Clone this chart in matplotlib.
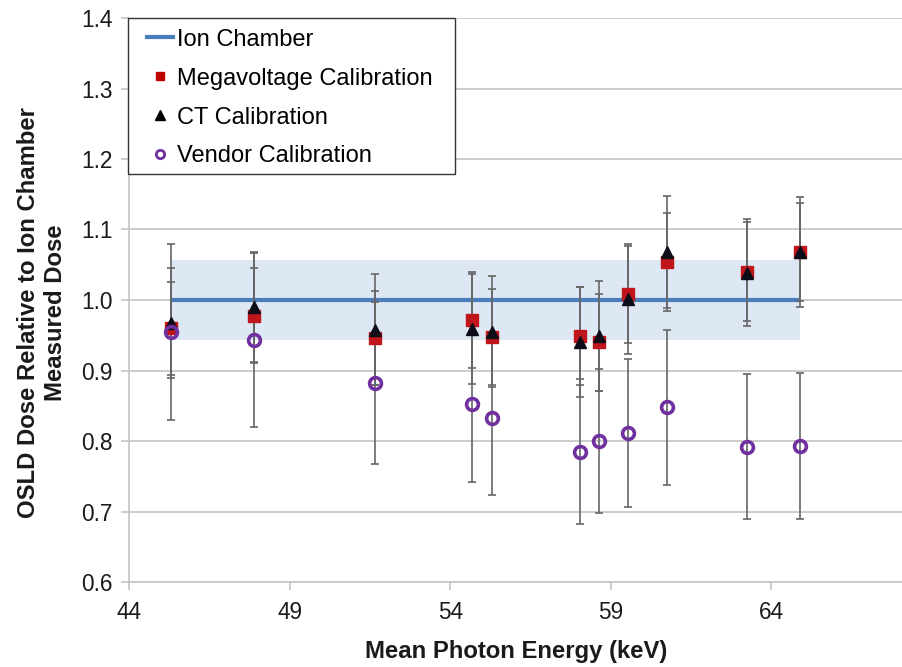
import matplotlib
matplotlib.use("Agg")
import matplotlib.pyplot as plt
from matplotlib.lines import Line2D
from matplotlib.patches import Rectangle

plt.rcParams['font.family'] = ['Liberation Sans', 'DejaVu Sans']

energy = [45.30, 47.88, 51.65, 54.69, 55.31, 58.05, 58.64, 59.55, 60.75, 63.23, 64.88]

ion_chamber = [1.0, 1.0, 1.0, 1.0, 1.0, 1.0, 1.0, 1.0, 1.0, 1.0, 1.0]
ion_band_low = [0.943, 0.943, 0.943, 0.943, 0.943, 0.943, 0.943, 0.943, 0.943, 0.943, 0.943]
ion_band_high = [1.057, 1.057, 1.057, 1.057, 1.057, 1.057, 1.057, 1.057, 1.057, 1.057, 1.057]

mv_cal = [0.960, 0.978, 0.946, 0.972, 0.948, 0.949, 0.940, 1.008, 1.054, 1.040, 1.068]
mv_err = [0.066, 0.068, 0.067, 0.068, 0.068, 0.069, 0.069, 0.069, 0.070, 0.070, 0.070]

ct_cal = [0.968, 0.990, 0.958, 0.959, 0.955, 0.941, 0.949, 1.002, 1.068, 1.039, 1.068]
ct_err = [0.078, 0.078, 0.079, 0.078, 0.079, 0.078, 0.078, 0.078, 0.079, 0.076, 0.078]

vendor_cal = [0.955, 0.943, 0.882, 0.853, 0.832, 0.785, 0.800, 0.811, 0.848, 0.792, 0.793]
vendor_err = [0.125, 0.123, 0.115, 0.111, 0.108, 0.103, 0.102, 0.105, 0.110, 0.103, 0.103]

x_ticks = [44, 49, 54, 59, 64]
y_ticks = [0.6, 0.7, 0.8, 0.9, 1.0, 1.1, 1.2, 1.3, 1.4]

labels = ["Ion Chamber", "Megavoltage Calibration", "CT Calibration", "Vendor Calibration"]

W, H = 903, 667
AX_L, AX_R, AX_T, AX_B = 129, 903, 18, 582
fig = plt.figure(figsize=(W / 100, H / 100), dpi=100)
ax = fig.add_axes([AX_L / W, 1 - AX_B / H, (AX_R - AX_L) / W, (AX_B - AX_T) / H])
aw, ah = AX_R - AX_L, AX_B - AX_T

gridc = '#C4C4C4'
ax.set_xlim(44, 68.1)
ax.set_ylim(0.6, 1.4)
ax.set_yticks(y_ticks)
ax.set_yticklabels([f"{v:.1f}" for v in y_ticks])
ax.set_xticks(x_ticks)
ax.yaxis.grid(True, color=gridc, linewidth=1.2, zorder=0)
ax.set_axisbelow(True)
for s in ['top', 'right']:
    ax.spines[s].set_visible(False)
for s in ['left', 'bottom']:
    ax.spines[s].set_color(gridc)
    ax.spines[s].set_linewidth(1.2)
ax.tick_params(axis='both', colors=gridc, labelcolor='#1a1a1a', labelsize=16.3,
               length=6, width=1.2, direction='out')
ax.tick_params(axis='y', pad=6)
ax.tick_params(axis='x', pad=8)

# band and ion chamber line
ax.fill_between(energy, ion_band_low, ion_band_high, color='#DEE8F5', linewidth=0, zorder=1)
ax.plot(energy, ion_chamber, color='#4A7EBB', linewidth=3, zorder=2, solid_capstyle='butt')

ebkw = dict(fmt='none', ecolor='#666666', elinewidth=1.2, capsize=2.6, capthick=1.2, zorder=3)
ax.errorbar(energy, vendor_cal, yerr=vendor_err, **ebkw)
ax.errorbar(energy, ct_cal, yerr=ct_err, **ebkw)
ax.errorbar(energy, mv_cal, yerr=mv_err, **ebkw)

ax.plot(energy, mv_cal, linestyle='none', marker='s', markersize=8.5,
        markerfacecolor='#C0151B', markeredgecolor='#C0151B', zorder=4)
ax.plot(energy, ct_cal, linestyle='none', marker='^', markersize=9,
        markerfacecolor='#0d0d1a', markeredgecolor='#0d0d1a', zorder=5)
ax.plot(energy, vendor_cal, linestyle='none', marker='o', markersize=8.5,
        markerfacecolor='none', markeredgecolor='#7030A0', markeredgewidth=2.6, zorder=6)

# legend frame
frame = Rectangle(((128 - AX_L) / aw, 1 - (174 - AX_T) / ah), 327 / aw, 156 / ah,
                  transform=ax.transAxes, facecolor='white', edgecolor='#333333',
                  linewidth=1.0, zorder=9, clip_on=False)
ax.add_patch(frame)

handles = [
    Line2D([], [], color='#4A7EBB', linewidth=3),
    Line2D([], [], linestyle='none', marker='s', markersize=6, color='#C00000'),
    Line2D([], [], linestyle='none', marker='^', markersize=6.5, color='black'),
    Line2D([], [], linestyle='none', marker='o', markersize=6, markerfacecolor='none',
           markeredgecolor='#7030A0', markeredgewidth=2),
]
leg = ax.legend(handles, labels, loc='upper left',
                bbox_to_anchor=((147 - AX_L) / aw, 1 - (28.5 - AX_T) / ah),
                fontsize=17, frameon=False, borderaxespad=0, borderpad=0,
                handlelength=1.1, handletextpad=0.17, labelspacing=0.72)
leg.set_zorder(10)

ax.set_xlabel("Mean Photon Energy (keV)", fontsize=17.2, fontweight='bold', labelpad=11, color='#1a1a1a')
ax.set_ylabel("OSLD Dose Relative to Ion Chamber\nMeasured Dose", fontsize=17.2,
              fontweight='bold', color='#1a1a1a', linespacing=1.2)
ax.yaxis.set_label_coords((67 - AX_L) / aw, (AX_B - 313) / ah)

fig.savefig("out.png", dpi=100)
